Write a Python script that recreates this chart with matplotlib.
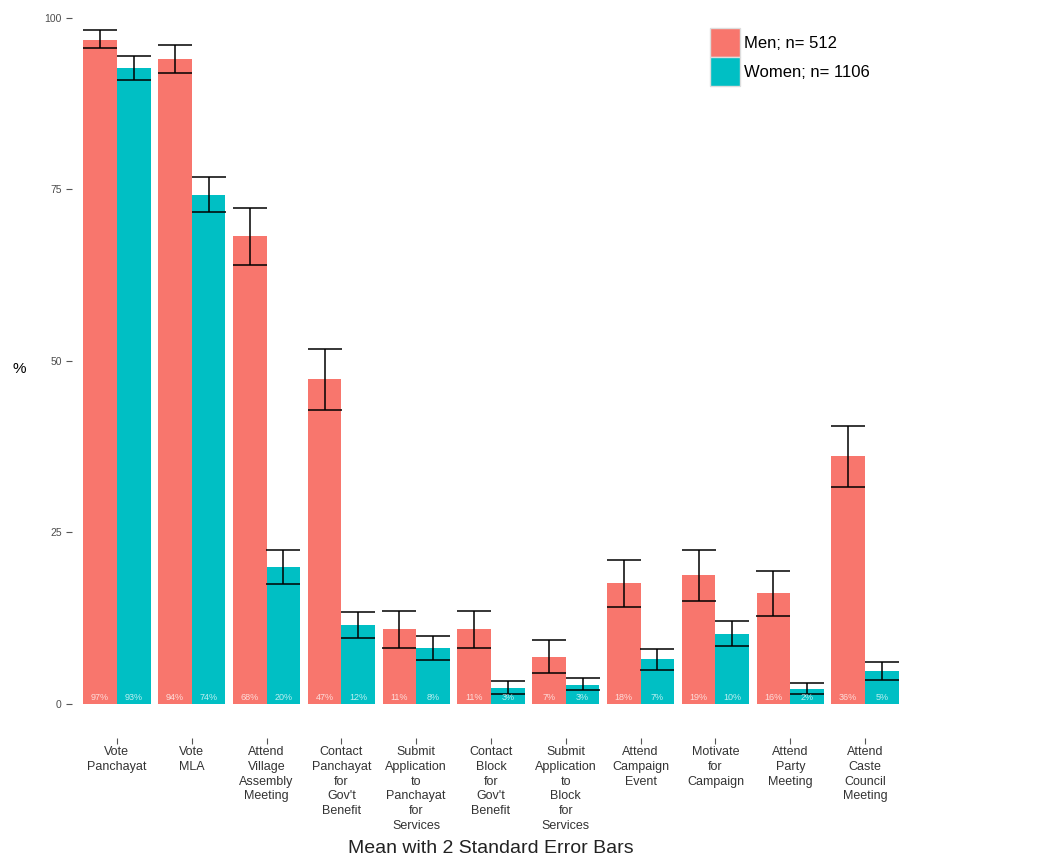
import matplotlib.pyplot as plt
from matplotlib.patches import Patch

plt.rcParams['font.family'] = ['Liberation Sans', 'DejaVu Sans']

categorias = ["Vote\nPanchayat", "Vote\nMLA", "Attend\nVillage\nAssembly\nMeeting",
              "Contact\nPanchayat\nfor\nGov't\nBenefit",
              "Submit\nApplication\nto\nPanchayat\nfor\nServices",
              "Contact\nBlock\nfor\nGov't\nBenefit",
              "Submit\nApplication\nto\nBlock\nfor\nServices",
              "Attend\nCampaign\nEvent", "Motivate\nfor\nCampaign",
              "Attend\nParty\nMeeting", "Attend\nCaste\nCouncil\nMeeting"]

# medias e limites (media +/- 2 erros padrao)
homens = [96.8, 94.0, 68.2, 47.4, 10.9, 10.9, 6.9, 17.6, 18.8, 16.2, 36.2]
homens_lo = [95.6, 92.0, 64.0, 42.9, 8.2, 8.2, 4.5, 14.1, 15.0, 12.8, 31.6]
homens_hi = [98.3, 96.1, 72.3, 51.7, 13.6, 13.6, 9.3, 21.0, 22.4, 19.4, 40.5]
homens_txt = ["97%", "94%", "68%", "47%", "11%", "11%", "7%", "18%", "19%", "16%", "36%"]

mulheres = [92.7, 74.2, 20.0, 11.5, 8.2, 2.3, 2.8, 6.6, 10.2, 2.2, 4.8]
mulheres_lo = [90.9, 71.7, 17.5, 9.6, 6.4, 1.5, 2.0, 5.0, 8.5, 1.5, 3.5]
mulheres_hi = [94.4, 76.8, 22.4, 13.4, 9.9, 3.4, 3.8, 8.0, 12.1, 3.1, 6.1]
mulheres_txt = ["93%", "74%", "20%", "12%", "8%", "3%", "3%", "7%", "10%", "2%", "5%"]

cor_h = "#F8766D"
cor_m = "#00BFC4"
largura = 0.45

fig = plt.figure(figsize=(10.6, 8.67), dpi=100)
ax = fig.add_axes([72/1060, 1 - 738/867, 838/1060, 738/867])

x = list(range(len(categorias)))
xh = [i - largura/2 for i in x]
xm = [i + largura/2 for i in x]

ax.bar(xh, homens, width=largura, color=cor_h)
ax.bar(xm, mulheres, width=largura, color=cor_m)

erro_h = [[h - l for h, l in zip(homens, homens_lo)], [u - h for h, u in zip(homens, homens_hi)]]
erro_m = [[h - l for h, l in zip(mulheres, mulheres_lo)], [u - h for h, u in zip(mulheres, mulheres_hi)]]
ax.errorbar(xh, homens, yerr=erro_h, fmt="none", ecolor="black", elinewidth=1.1, capsize=12, capthick=1.1)
ax.errorbar(xm, mulheres, yerr=erro_m, fmt="none", ecolor="black", elinewidth=1.1, capsize=12, capthick=1.1)

for i in x:
    ax.text(xh[i], 1.0, homens_txt[i], ha="center", va="center", fontsize=6.5, color="white", alpha=0.75)
    ax.text(xm[i], 1.0, mulheres_txt[i], ha="center", va="center", fontsize=6.5, color="white", alpha=0.75)

ax.set_xlim(-0.6, 10.6)
ax.set_ylim(-4.96, 102.6)
ax.set_yticks([0, 25, 50, 75, 100])
ax.set_xticks(x)
ax.set_xticklabels(categorias, fontsize=9, color="#333333", linespacing=1.3, va="top")
ax.tick_params(axis="y", labelsize=7.5, labelcolor="#4D4D4D", color="#555555", length=4, width=0.8)
ax.tick_params(axis="x", color="#555555", length=4, width=0.8, pad=2)
for s in ax.spines.values():
    s.set_visible(False)

ax.set_ylabel("%", rotation=0, fontsize=11, labelpad=18, va="center")
ax.set_xlabel("Mean with 2 Standard Error Bars", fontsize=14, color="#222222", labelpad=6)

handles = [Patch(facecolor=cor_h, edgecolor="#dddddd"), Patch(facecolor=cor_m, edgecolor="#dddddd")]
fig.legend(handles, ["Men; n= 512", "Women; n= 1106"], loc="upper left",
           bbox_to_anchor=(702/1060, 1 - 20/867), frameon=False, fontsize=12,
           handlelength=1.8, handleheight=2.3, labelspacing=0.0, handletextpad=0.2, borderpad=0)

plt.savefig("out.png", dpi=100)
